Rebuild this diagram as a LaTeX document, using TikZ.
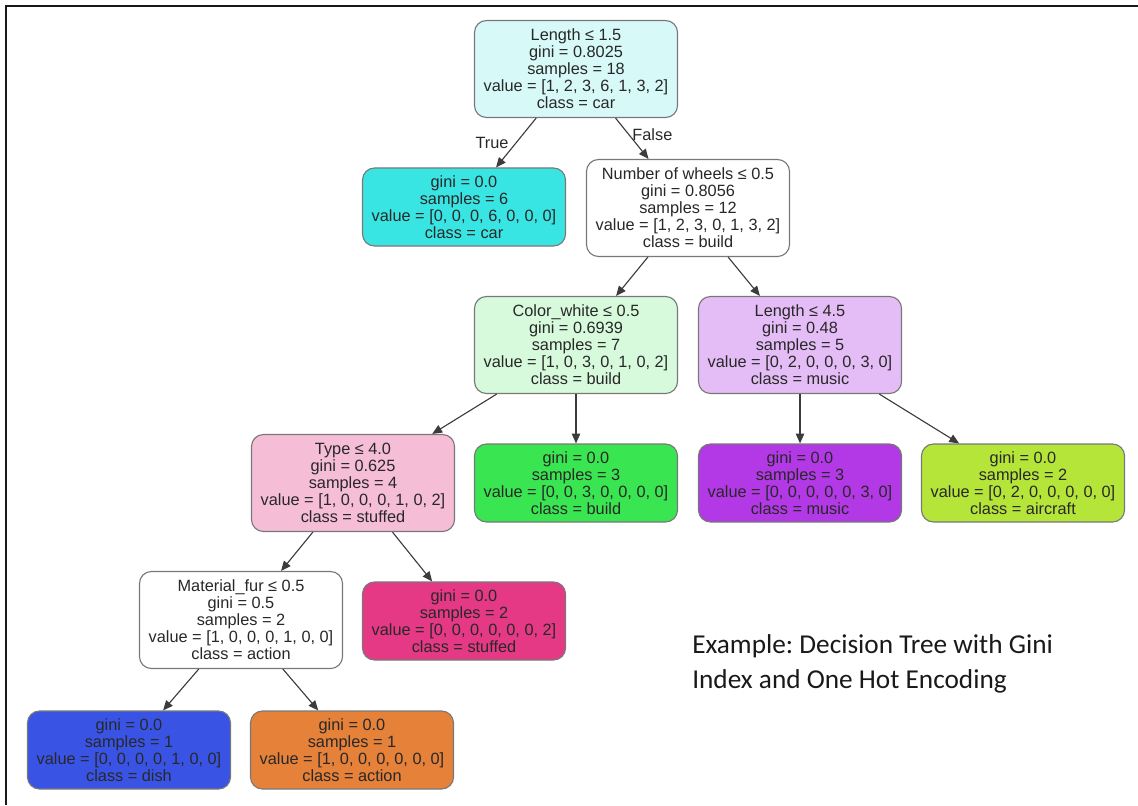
\documentclass[tikz,border=0pt]{standalone}
\usepackage{fontspec}
\usepackage{xcolor}
\usepackage{tikz}
\usetikzlibrary{arrows.meta, positioning}
\setmainfont{Liberation Sans}
\newfontfamily\capfont{Carlito}
\definecolor{txtgray}{RGB}{40,40,40}
\definecolor{bordergray}{RGB}{120,120,120}
\definecolor{edgegray}{RGB}{60,60,60}
\definecolor{carlight}{RGB}{215,250,249}
\definecolor{buildlight}{RGB}{215,250,220}
\definecolor{musiclight}{RGB}{229,189,246}
\definecolor{stuffedlight}{RGB}{246,189,214}
\definecolor{actioncol}{RGB}{229,129,57}
\definecolor{aircraftcol}{RGB}{182,229,57}
\definecolor{buildcol}{RGB}{57,229,80}
\definecolor{carcol}{RGB}{57,229,227}
\definecolor{dishcol}{RGB}{57,84,229}
\definecolor{musiccol}{RGB}{178,57,229}
\definecolor{stuffedcol}{RGB}{229,57,133}
\tikzset{
  splitnode/.style={rectangle, draw=bordergray, fill=white,
    minimum width=5.075cm, minimum height=2.425cm, align=center,
    inner sep=0pt, rounded corners=0.3cm, line width=0.8pt,
    text=txtgray, font=\fontsize{11.6}{12.1}\selectfont},
  leafnode/.style={splitnode, minimum height=1.95cm},
  edge/.style={-{Triangle[length=7pt, width=6pt]}, line width=0.8pt, color=edgegray},
  lbl/.style={inner sep=0pt, text=txtgray, font=\fontsize{11.6}{12.1}\selectfont}
}

\begin{document}
\begin{tikzpicture}[x=0.025cm, y=-0.025cm,
  caption/.style={inner sep=0pt, text=black!90, font=\capfont\fontsize{19.4}{24}\selectfont\frenchspacing},
  frame/.style={line width=2pt, color=black!90}]

  \useasboundingbox (0,0) rectangle (1138,805);

  % Frame
  \draw[frame] (6,805) -- (6,6) -- (1138,6);

  % Root and level 1
  \node[splitnode, fill=carlight] (root) at (576,69)
    {Length ≤ 1.5\\gini = 0.8025\\samples = 18\\value = [1, 2, 3, 6, 1, 3, 2]\\class = car};
  \node[leafnode, fill=carcol] (carleaf) at (464,207)
    {gini = 0.0\\samples = 6\\value = [0, 0, 0, 6, 0, 0, 0]\\class = car};
  \node[splitnode] (wheels) at (688,208)
    {Number of wheels ≤ 0.5\\gini = 0.8056\\samples = 12\\value = [1, 2, 3, 0, 1, 3, 2]\\class = build};

  % Level 2
  \node[splitnode, fill=buildlight] (colorwhite) at (576,345)
    {Color\_white ≤ 0.5\\gini = 0.6939\\samples = 7\\value = [1, 0, 3, 0, 1, 0, 2]\\class = build};
  \node[splitnode, fill=musiclight] (lengthb) at (800,345)
    {Length ≤ 4.5\\gini = 0.48\\samples = 5\\value = [0, 2, 0, 0, 0, 3, 0]\\class = music};

  % Level 3
  \node[splitnode, fill=stuffedlight] (typenode) at (353,483)
    {Type ≤ 4.0\\gini = 0.625\\samples = 4\\value = [1, 0, 0, 0, 1, 0, 2]\\class = stuffed};
  \node[leafnode, fill=buildcol] (buildleaf) at (576,483)
    {gini = 0.0\\samples = 3\\value = [0, 0, 3, 0, 0, 0, 0]\\class = build};
  \node[leafnode, fill=musiccol] (musicleaf) at (800,483)
    {gini = 0.0\\samples = 3\\value = [0, 0, 0, 0, 0, 3, 0]\\class = music};
  \node[leafnode, fill=aircraftcol] (aircraftleaf) at (1023,483)
    {gini = 0.0\\samples = 2\\value = [0, 2, 0, 0, 0, 0, 0]\\class = aircraft};

  % Level 4
  \node[splitnode] (materialfur) at (241,620)
    {Material\_fur ≤ 0.5\\gini = 0.5\\samples = 2\\value = [1, 0, 0, 0, 1, 0, 0]\\class = action};
  \node[leafnode, fill=stuffedcol] (stuffedleaf) at (464,621)
    {gini = 0.0\\samples = 2\\value = [0, 0, 0, 0, 0, 0, 2]\\class = stuffed};

  % Level 5
  \node[leafnode, fill=dishcol] (dishleaf) at (129,750)
    {gini = 0.0\\samples = 1\\value = [0, 0, 0, 0, 1, 0, 0]\\class = dish};
  \node[leafnode, fill=actioncol] (actionleaf) at (352,750)
    {gini = 0.0\\samples = 1\\value = [1, 0, 0, 0, 0, 0, 0]\\class = action};

  % Edges
  \draw[edge] (root) -- node[lbl, pos=0.5, left=5pt] {True} (carleaf);
  \draw[edge] (root) -- node[lbl, pos=0.41, right=2pt] {False} (wheels);
  \draw[edge] (wheels) -- (colorwhite);
  \draw[edge] (wheels) -- (lengthb);
  \draw[edge] (colorwhite) -- (typenode);
  \draw[edge] (colorwhite) -- (buildleaf);
  \draw[edge] (lengthb) -- (musicleaf);
  \draw[edge] (lengthb) -- (aircraftleaf);
  \draw[edge] (typenode) -- (materialfur);
  \draw[edge] (typenode) -- (stuffedleaf);
  \draw[edge] (materialfur) -- (dishleaf);
  \draw[edge] (materialfur) -- (actionleaf);

  % Caption
  \node[caption, anchor=base west] (capa) at (692,653) {Example: Decision Tree with Gini};
  \node[caption, anchor=base west] (capb) at (692,688) {Index and One Hot Encoding};
\end{tikzpicture}
\end{document}
